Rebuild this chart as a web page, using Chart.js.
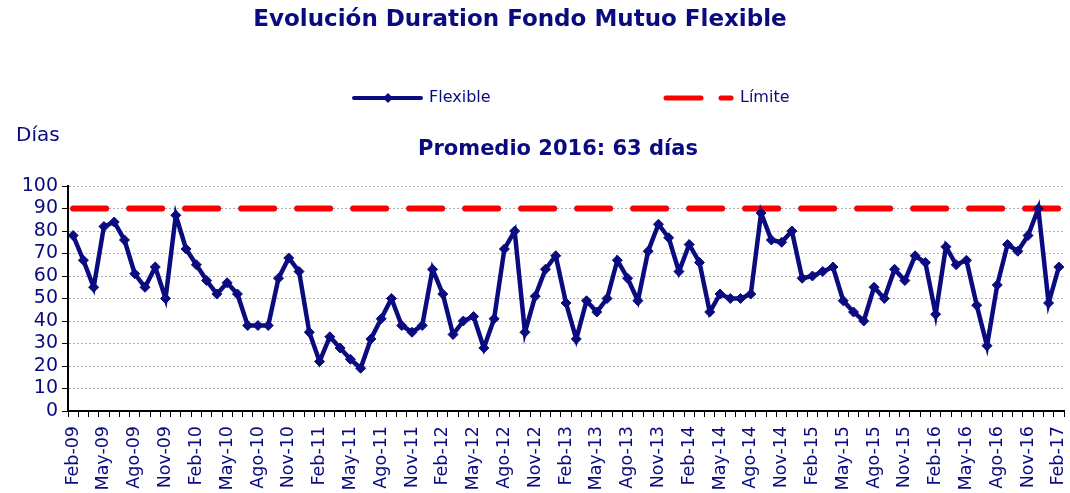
<!DOCTYPE html>
<html>
<head>
<meta charset="utf-8">
<script src="https://cdn.jsdelivr.net/npm/chart.js@4.4.1/dist/chart.umd.min.js"></script>
<style>
  body { margin: 0; background: #fff; }
  #wrap { width: 1070px; height: 493px; }
</style>
</head>
<body>
<div id="wrap"><canvas id="chartDuration" width="1070" height="493"></canvas></div>
<script>
// meses en español, serie mensual Feb-09 .. Feb-17
var meses = ["Ene", "Feb", "Mar", "Abr", "May", "Jun", "Jul", "Ago", "Sep", "Oct", "Nov", "Dic"];
var anios = ["09", "10", "11", "12", "13", "14", "15", "16", "17"];

var flexible = [
    78, 67, 55, 82, 84, 76, 61, 55, 64, 50, 87,              // 2009 (Feb-Dic)
    72, 65, 58, 52, 57, 52, 38, 38, 38, 59, 68, 62,          // 2010
    35, 22, 33, 28, 23, 19, 32, 41, 50, 38, 35, 38,          // 2011
    63, 52, 34, 40, 42, 28, 41, 72, 80, 35, 51, 63,          // 2012
    69, 48, 32, 49, 44, 50, 67, 59, 49, 71, 83, 77,          // 2013
    62, 74, 66, 44, 52, 50, 50, 52, 88, 76, 75, 80,          // 2014
    59, 60, 62, 64, 49, 44, 40, 55, 50, 63, 58, 69,          // 2015
    66, 43, 73, 65, 67, 47, 29, 56, 74, 71, 78, 90,          // 2016
    48, 64                                                   // 2017 (Ene-Feb)
];
var limite = 90;
var yTicks = [0, 10, 20, 30, 40, 50, 60, 70, 80, 90, 100];

var navy = "#0b0b80";

var labels = [];
for (var a = 0; a < anios.length; a++) {
    for (var m = 0; m < 12; m++) {
        if (a === 0 && m < 1) continue;
        if (a === anios.length - 1 && m > 1) continue;
        labels.push(meses[m] + "-" + anios[a]);
    }
}
var limiteData = labels.map(function () { return limite; });

// textos y leyenda dibujados a mano
var textos = {
    id: "textos",
    afterDraw: function (chart) {
        var ctx = chart.ctx;
        ctx.save();
        ctx.fillStyle = navy;
        ctx.textBaseline = "middle";
        ctx.textAlign = "center";
        ctx.font = "bold 23px 'DejaVu Sans'";
        ctx.fillText("Evolución Duration Fondo Mutuo Flexible", 520, 20);
        ctx.font = "bold 21px 'DejaVu Sans'";
        ctx.fillText("Promedio 2016: 63 días", 558, 150);
        ctx.textAlign = "left";
        ctx.font = "20px 'DejaVu Sans'";
        ctx.fillText("Días", 16, 136);

        // leyenda
        ctx.font = "16px 'DejaVu Sans'";
        ctx.lineCap = "round";
        ctx.strokeStyle = navy;
        ctx.lineWidth = 4;
        ctx.beginPath(); ctx.moveTo(354, 98); ctx.lineTo(421, 98); ctx.stroke();
        ctx.beginPath();
        ctx.moveTo(388, 93); ctx.lineTo(393, 98); ctx.lineTo(388, 103); ctx.lineTo(383, 98);
        ctx.closePath(); ctx.fill();
        ctx.fillText("Flexible", 429, 98);

        ctx.strokeStyle = "#ff0000";
        ctx.lineWidth = 5;
        ctx.beginPath(); ctx.moveTo(666, 98); ctx.lineTo(701, 98); ctx.stroke();
        ctx.beginPath(); ctx.moveTo(721, 98); ctx.lineTo(731, 98); ctx.stroke();
        ctx.fillText("Límite", 740, 98);
        ctx.restore();
    }
};

var ctx1 = document.getElementById("chartDuration").getContext("2d");
new Chart(ctx1, {
    type: "line",
    data: {
        labels: labels,
        datasets: [
            {
                label: "Flexible",
                data: flexible,
                borderColor: navy,
                backgroundColor: navy,
                borderWidth: 4.5,
                pointStyle: "rectRot",
                pointRadius: 5,
                pointBorderWidth: 1,
                pointBorderColor: navy,
                pointBackgroundColor: navy,
                tension: 0
            },
            {
                label: "Límite",
                data: limiteData,
                borderColor: "#ff0000",
                borderWidth: 6,
                borderDash: [33, 23],
                borderCapStyle: "round",
                pointRadius: 0,
                tension: 0
            }
        ]
    },
    options: {
        responsive: false,
        animation: false,
        layout: { padding: { top: 186, right: 2, left: 0, bottom: 0 } },
        plugins: {
            legend: { display: false },
            tooltip: { enabled: false }
        },
        scales: {
            x: {
                offset: true,
                grid: {
                    offset: true,
                    drawOnChartArea: false,
                    tickLength: 6,
                    tickColor: "#000",
                    tickWidth: 1
                },
                border: { color: "#000", width: 2 },
                ticks: {
                    autoSkip: false,
                    minRotation: 90,
                    maxRotation: 90,
                    padding: 9,
                    color: navy,
                    font: { family: "'DejaVu Sans'", size: 17.5 },
                    callback: function (v, i) { return i % 3 === 0 ? labels[i] : ""; }
                },
                afterFit: function (scale) {
                    scale.height = 82;
                    scale.paddingLeft = 0;
                    scale.paddingRight = 0;
                }
            },
            y: {
                min: 0,
                max: 100,
                afterBuildTicks: function (scale) {
                    scale.ticks = yTicks.map(function (v) { return { value: v }; });
                },
                grid: {
                    color: "#b0b0b0",
                    lineWidth: 1,
                    tickColor: "#000",
                    tickBorderDash: [],
                    tickLength: 6
                },
                border: { color: "#000", width: 2, dash: [2, 2] },
                ticks: {
                    autoSkip: false,
                    stepSize: 10,
                    padding: 4,
                    color: navy,
                    font: { family: "'DejaVu Sans'", size: 19 }
                },
                afterFit: function (scale) { scale.width = 68; }
            }
        }
    },
    plugins: [textos]
});
</script>
</body>
</html>
